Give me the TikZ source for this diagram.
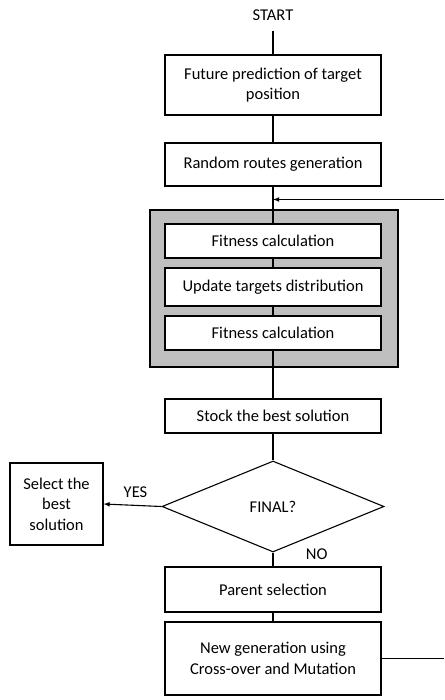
\documentclass[tikz,border=0pt]{standalone}
\usepackage{fontspec}
\setmainfont{Carlito}
\usetikzlibrary{shapes.geometric}

\begin{document}
\begin{tikzpicture}[x=1pt,y=-1pt,
    line width=1.1pt,
    every node/.append style={font=\fontsize{16.5}{20.5}\selectfont},
    procbox/.style={draw=black, fill=white, rectangle, align=center, inner sep=0pt, minimum width=216pt},
    groupbox/.style={draw=black, fill=gray!50, rectangle, inner sep=0pt},
    testbox/.style={draw=black, fill=white, diamond, inner sep=0pt, minimum width=222pt, minimum height=91pt},
    flowarrow/.style={-latex}]
    \useasboundingbox (0,0) rectangle (444,700);
    \node [anchor=north, inner sep=0pt, minimum height=30pt] (start) at (273,0) {START};
    \node [procbox, minimum height=60pt] (pred) at (273,85) {Future prediction of target\\position};
    \node [procbox, minimum height=43pt] (rand) at (273,164.5) {Random routes generation};
    \node [groupbox, minimum width=248pt, minimum height=157pt] (group) at (274,288.5) {};
    \node [procbox, minimum height=34pt] (fitA) at (273,241) {Fitness calculation};
    \node [procbox, minimum height=38pt] (upd) at (273,287) {Update targets distribution};
    \node [procbox, minimum height=34pt] (fitB) at (273,333) {Fitness calculation};
    \node [procbox, minimum height=34pt] (stock) at (273,416) {Stock the best solution};
    \node [testbox] (final) at (273,506.5) {FINAL?};
    \node [procbox, minimum width=93pt, minimum height=82pt] (select) at (56.5,504) {Select the\\best\\solution};
    \node [procbox, minimum height=45pt] (parent) at (273,589.5) {Parent selection};
    \node [procbox, minimum height=73pt] (newgen) at (273,658.5) {New generation using\\Cross-over and Mutation};
    \coordinate (loopin) at (444,199.5);
    \coordinate (loopout) at (444,658.5);
    % main flow
    \draw (start.south) -- (pred.north);
    \draw (pred) -- (rand);
    \draw (rand.south) -- (fitA.north);
    \draw (fitA) -- (upd);
    \draw (upd) -- (fitB);
    \draw (fitB.south) -- (stock.north);
    \draw (stock) -- (final);
    \draw [flowarrow] (final.west) -- (select.east) node [pos=0.5, above=4pt, xshift=3pt] {YES};
    \draw (final.south) -- (parent.north) node [pos=0.1, right=29pt] {NO};
    \draw (parent) -- (newgen);
    % loop back
    \draw (newgen.east) -- (loopout);
    \draw [flowarrow] (loopin) -- (rand.south |- loopin);
\end{tikzpicture}
\end{document}
